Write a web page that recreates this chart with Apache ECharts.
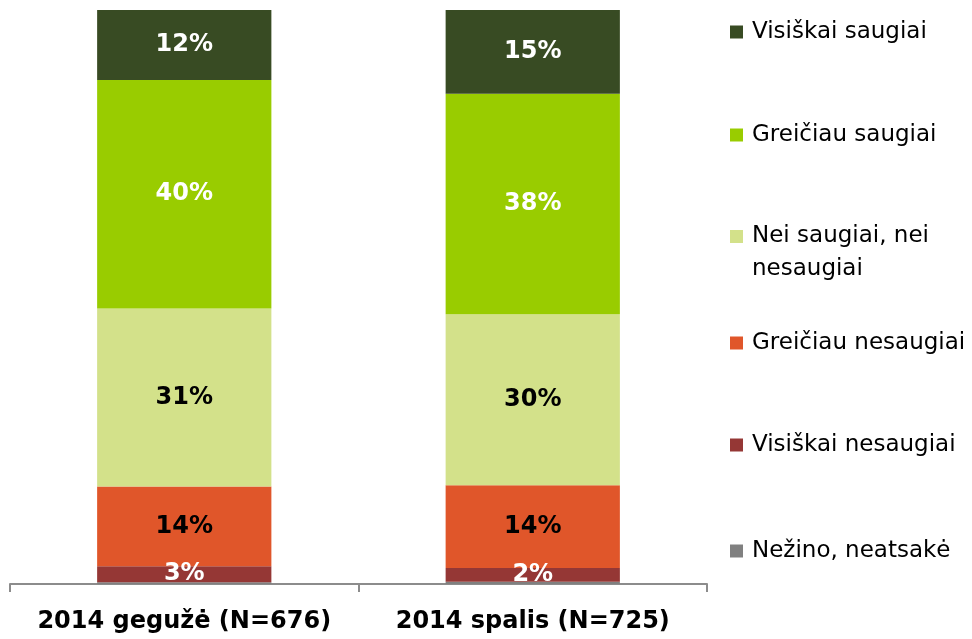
<!DOCTYPE html>
<html>
<head>
<meta charset="utf-8">
<script src="https://cdn.jsdelivr.net/npm/echarts@6/dist/echarts.min.js"></script>
<style>
    html, body { margin: 0; padding: 0; background: #fff; }
    #chart { width: 972px; height: 639px; }
</style>
</head>
<body>
<div id="chart"></div>
<script>
    // kategorijos (x ašis)
    const categories = ['2014 gegužė (N=676)', '2014 spalis (N=725)'];
    // serijos nuo apačios į viršų (procentai, nuskaityti nuo paveikslo)
    const seriesNames = ['Nežino, neatsakė', 'Visiškai nesaugiai', 'Greičiau nesaugiai',
        'Nei saugiai, nei nesaugiai', 'Greičiau saugiai', 'Visiškai saugiai'];
    const nezino = [0.3, 0.4];
    const visiskaiNesaugiai = [2.8, 2.4];
    const greiciauNesaugiai = [13.9, 14.4];
    const neiNei = [31.0, 29.8];
    const greiciauSaugiai = [39.8, 38.4];
    const visiskaiSaugiai = [12.2, 14.6];

    const values = [nezino, visiskaiNesaugiai, greiciauNesaugiai, neiNei, greiciauSaugiai, visiskaiSaugiai];
    const colors = ['#808080', '#953735', '#E0562A', '#D3E18A', '#99CC00', '#384B23'];
    const labelColors = ['#fff', '#fff', '#000', '#000', '#fff', '#fff'];
    // legendos elementų centrai (y)
    const legendCenters = [551, 445, 343, 237, 135, 32];

    const font = 'DejaVu Sans, Verdana, sans-serif';
    let myChart = echarts.init(document.getElementById('chart'));

    let series = seriesNames.map(function (name, i) {
        return {
            name: name,
            type: 'bar',
            stack: 'total',
            barWidth: '50%',
            data: values[i],
            itemStyle: { color: colors[i] },
            label: {
                show: i > 0,
                position: 'inside',
                formatter: function (p) {
                    return Math.round(p.value) + '%';
                },
                color: labelColors[i],
                fontFamily: font,
                fontWeight: 'bold',
                fontSize: 24
            }
        };
    });

    let legends = seriesNames.map(function (name, i) {
        let twoLines = name === 'Nei saugiai, nei nesaugiai';
        return {
            data: [name],
            left: 730,
            padding: 0,
            top: twoLines ? legendCenters[i] - 50 : legendCenters[i] - 13,
            itemWidth: 13,
            itemHeight: 13,
            icon: 'rect',
            selectedMode: false,
            // tuščia pirma eilutė, kad kvadratėlis būtų ties pirma teksto eilute
            formatter: twoLines ? ' \nNei saugiai, nei\nnesaugiai' : name,
            textStyle: {
                fontFamily: font,
                fontSize: 23,
                color: '#000',
                lineHeight: twoLines ? 33 : 26,
                padding: [0, 0, 0, 4]
            }
        };
    });

    myChart.setOption({
        animation: false,
        backgroundColor: '#fff',
        grid: {
            left: 10,
            right: 265,
            top: 10,
            bottom: 55,
            containLabel: false
        },
        legend: legends,
        xAxis: {
            type: 'category',
            data: categories,
            axisLine: { show: true, lineStyle: { color: '#8c8c8c', width: 2 } },
            axisTick: { show: true, length: 8, lineStyle: { color: '#8c8c8c', width: 2 } },
            axisLabel: {
                interval: 0,
                color: '#000',
                fontFamily: font,
                fontWeight: 'bold',
                fontSize: 24,
                margin: 26
            }
        },
        yAxis: {
            type: 'value',
            min: 0,
            max: 100,
            show: false,
            splitLine: { show: false }
        },
        series: series
    });
</script>
</body>
</html>
